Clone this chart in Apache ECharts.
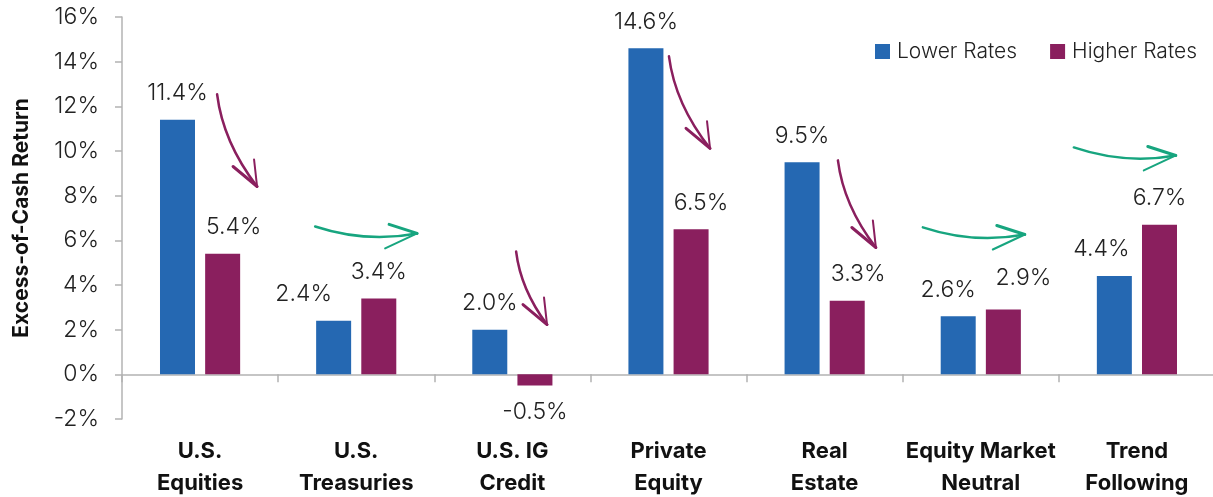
<!DOCTYPE html>
<html>
<head>
<meta charset="utf-8">
<script src="https://cdn.jsdelivr.net/npm/echarts@6/dist/echarts.min.js"></script>
<style>
  html, body { margin: 0; padding: 0; background: #fff; }
  #chart { width: 1213px; height: 497px; }
</style>
</head>
<body>
<div id="chart"></div>
<script>
// Asset classes shown along the horizontal axis
const categories = [
  'U.S.\nEquities',
  'U.S.\nTreasuries',
  'U.S. IG\nCredit',
  'Private\nEquity',
  'Real\nEstate',
  'Equity Market\nNeutral',
  'Trend\nFollowing'
];

// Excess-of-cash returns (%) in each rate regime
const lowerRates = [11.4, 2.4, 2.0, 14.6, 9.5, 2.6, 4.4];
const higherRates = [5.4, 3.4, -0.5, 6.5, 3.3, 2.9, 6.7];

// Y-axis range and step (%)
const yMin = -2;
const yMax = 16;
const yStep = 2;

// Direction of change drawn with an arrow for each asset class
const changeKind = ['down', 'flat', 'down', 'down', 'down', 'flat', 'flat'];
// Arrow start / end heights in axis units (%)
const arrowFrom = [12.54, 6.62, 5.50, 14.24, 9.58, 6.58, 10.16];
const arrowTo = [8.41, 6.31, 2.23, 10.12, 5.68, 6.26, 9.80];

// Horizontal placement of arrow ends, as a fraction of a category band
const arrowDx = [
  [0.109, 0.365],
  [-0.263, 0.390],
  [0.024, 0.222],
  [0.003, 0.266],
  [0.085, 0.328],
  [-0.371, 0.282],
  [-0.404, 0.249]
];

// Per-label nudges for the value labels [dx, dy] in px
const lowerLabelShift = [[0, 0], [-30, 0], [0, 0], [0, 0], [0, 0], [-10, 0], [-13, 0]];
const higherLabelShift = [[11, 0], [0, 0], [0, 0], [10, 0], [11, 0], [20, -5], [0, 0]];

const BLUE = '#2568b2';
const PURPLE = '#8a1f5e';
const GREEN = '#17a57f';
const TEXT = '#222222';
const AXIS = '#b3b3b3';
const FONT = 'Inter, Roboto, "Liberation Sans", sans-serif';

function pct(v) { return v.toFixed(1) + '%'; }

function barData(values, shifts) {
  return values.map((v, i) => {
    const item = { value: v, label: { offset: shifts[i] } };
    if (v < 0) item.label.position = 'bottom';
    return item;
  });
}

const arrowData = categories.map((c, i) => [i, arrowFrom[i], arrowTo[i]]);

function renderArrow(params, api) {
  const i = params.dataIndex;
  const band = api.size([1, 0])[0];
  const c0 = api.coord([api.value(0), api.value(1)]);
  const c1 = api.coord([api.value(0), api.value(2)]);
  const sx = c0[0] + arrowDx[i][0] * band, sy = c0[1];
  const tx = c1[0] + arrowDx[i][1] * band, ty = c1[1];
  const dx = tx - sx, dy = ty - sy;
  let cx, cy, barbs, color;
  if (changeKind[i] === 'down') {
    color = PURPLE;
    cx = sx + 0.15 * dx;
    cy = sy + 0.52 * dy;
    barbs = [[-24, -20], [-3, -27]];
  } else {
    color = GREEN;
    cx = sx + 0.5 * dx;
    cy = (sy + ty) / 2 + 0.13 * dx;
    barbs = [[-28, -9], [-32, 15]];
  }
  const style = { stroke: color, lineWidth: 2.5, fill: null, lineCap: 'round', lineJoin: 'round' };
  return {
    type: 'group',
    children: [
      { type: 'bezierCurve', shape: { x1: sx, y1: sy, cpx1: cx, cpy1: cy, x2: tx, y2: ty }, style: style },
      { type: 'line', shape: { x1: tx + barbs[0][0], y1: ty + barbs[0][1], x2: tx, y2: ty }, style: Object.assign({}, style, { lineWidth: 3 }) },
      { type: 'line', shape: { x1: tx + barbs[1][0], y1: ty + barbs[1][1], x2: tx, y2: ty }, style: Object.assign({}, style, { lineWidth: 2 }) }
    ]
  };
}

const labelStyle = {
  show: true,
  position: 'top',
  distance: 15,
  formatter: (p) => pct(p.value),
  color: TEXT,
  fontFamily: FONT,
  fontWeight: 300,
  fontSize: 23
};

const chart = echarts.init(document.getElementById('chart'), null, { renderer: 'canvas' });

chart.setOption({
  animation: false,
  textStyle: { fontFamily: FONT },
  grid: { left: 122, top: 17, width: 1093, height: 402, containLabel: false, outerBoundsMode: 'none' },
  legend: {
    data: ['Lower Rates', 'Higher Rates'],
    right: 11,
    top: 36,
    icon: 'rect',
    itemWidth: 15,
    itemHeight: 15,
    itemGap: 33,
    textStyle: { color: TEXT, fontFamily: FONT, fontWeight: 300, fontSize: 21, padding: [0, 0, 0, 2] }
  },
  xAxis: {
    type: 'category',
    data: categories,
    axisLine: { onZero: true, lineStyle: { color: AXIS, width: 1.5 } },
    axisTick: { show: true, length: 8, lineStyle: { color: AXIS, width: 1.5 } },
    axisLabel: {
      interval: 0,
      margin: 16,
      color: '#111',
      fontFamily: FONT,
      fontWeight: 'bold',
      fontSize: 22,
      lineHeight: 32
    },
    splitLine: { show: false }
  },
  yAxis: {
    type: 'value',
    min: yMin,
    max: yMax,
    interval: yStep,
    name: 'Excess-of-Cash Return',
    nameLocation: 'middle',
    nameGap: 90,
    nameTextStyle: { color: '#111', fontFamily: FONT, fontWeight: 'bold', fontSize: 21 },
    axisLine: { show: true, lineStyle: { color: AXIS, width: 1.5 } },
    axisTick: { show: true, length: 7, lineStyle: { color: AXIS, width: 1.5 } },
    axisLabel: {
      formatter: '{value}%',
      margin: 23,
      color: TEXT,
      fontFamily: FONT,
      fontWeight: 300,
      fontSize: 23
    },
    splitLine: { show: false }
  },
  series: [
    {
      name: 'Lower Rates',
      type: 'bar',
      barWidth: 35,
      barGap: '29%',
      itemStyle: { color: BLUE },
      label: labelStyle,
      data: barData(lowerRates, lowerLabelShift)
    },
    {
      name: 'Higher Rates',
      type: 'bar',
      barWidth: 35,
      barGap: '29%',
      itemStyle: { color: PURPLE },
      label: labelStyle,
      data: barData(higherRates, higherLabelShift)
    },
    {
      name: 'change',
      type: 'custom',
      silent: true,
      z: 5,
      encode: { x: 0, y: [1, 2] },
      renderItem: renderArrow,
      data: arrowData
    }
  ]
});
</script>
</body>
</html>
